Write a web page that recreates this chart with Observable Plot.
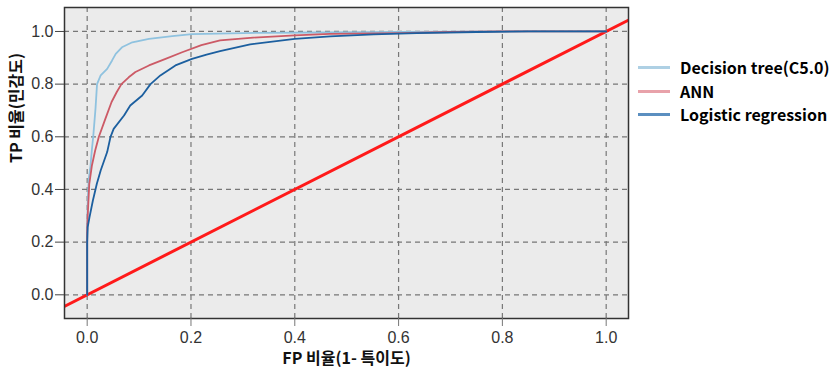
<!DOCTYPE html>
<html>
<head>
<meta charset="utf-8">
<script src="https://cdn.jsdelivr.net/npm/d3@7"></script>
<script src="https://cdn.jsdelivr.net/npm/@observablehq/plot@0.6"></script>
<style>
  body { margin: 0; background: #fff; }
  #wrap { position: relative; width: 837px; height: 375px; }
  #legend { position: absolute; left: 638px; top: 56px; width: 199px; white-space: nowrap; font-family: "Noto Sans CJK KR", "Noto Sans", sans-serif; font-weight: bold; font-size: 16px; color: #000; }
  .item { display: flex; align-items: center; height: 23.5px; line-height: 23.5px; white-space: nowrap; }
  .sw { width: 32px; height: 3px; margin-right: 10px; flex: none; }
</style>
</head>
<body>
<div id="wrap"><div id="legend"></div></div>
<script>
const xTicks = [0, 0.2, 0.4, 0.6, 0.8, 1.0];
const yTicks = [0, 0.2, 0.4, 0.6, 0.8, 1.0];
const xDomain = [-0.0437, 1.043];
const yDomain = [-0.09, 1.091];

const seriesNames = ["Decision tree(C5.0)", "ANN", "Logistic regression"];
const seriesColors = ["#8fc2df", "#cc5a66", "#1c5f9f"];
const legendColors = ["#aed0e4", "#e8a2aa", "#5b8fc0"];

const dtFpr = [0, 0, 0.001, 0.003, 0.0064, 0.009, 0.0116, 0.016, 0.019, 0.026, 0.0385, 0.048, 0.055, 0.067, 0.087, 0.119, 0.164, 0.202, 0.3, 0.45, 0.6, 0.8, 1.0];
const dtTpr = [0, 0.25, 0.35, 0.44, 0.49, 0.55, 0.6, 0.706, 0.8, 0.833, 0.858, 0.89, 0.915, 0.94, 0.959, 0.972, 0.982, 0.99, 0.994, 0.996, 0.998, 1.0, 1.0];

const annFpr = [0, 0, 0.001, 0.004, 0.009, 0.0154, 0.0225, 0.035, 0.047, 0.057, 0.066, 0.08, 0.093, 0.119, 0.151, 0.183, 0.22, 0.256, 0.314, 0.4, 0.468, 0.603, 0.7, 0.8, 1.0];
const annTpr = [0, 0.24, 0.3, 0.42, 0.49, 0.548, 0.6, 0.668, 0.732, 0.77, 0.8, 0.826, 0.846, 0.871, 0.896, 0.921, 0.948, 0.966, 0.976, 0.985, 0.991, 0.994, 0.998, 1.0, 1.0];

const lrFpr = [0, 0, 0.001, 0.0045, 0.011, 0.0186, 0.026, 0.0385, 0.045, 0.051, 0.071, 0.083, 0.106, 0.122, 0.141, 0.17, 0.202, 0.23, 0.256, 0.314, 0.4, 0.468, 0.552, 0.635, 0.75, 0.85, 1.0];
const lrTpr = [0, 0.2, 0.257, 0.295, 0.358, 0.422, 0.472, 0.542, 0.6, 0.63, 0.681, 0.719, 0.757, 0.8, 0.833, 0.871, 0.896, 0.912, 0.925, 0.951, 0.972, 0.981, 0.989, 0.994, 0.998, 1.0, 1.0];

const refLine = [-0.05, 1.05];

const xTitle = "FP 비율(1- 특이도)";
const yTitle = "TP 비율(민감도)";

const toRows = (xs, ys) => xs.map((x, i) => ({x, y: ys[i]}));
const curves = [toRows(dtFpr, dtTpr), toRows(annFpr, annTpr), toRows(lrFpr, lrTpr)];
const diag = refLine.map(v => ({x: v, y: v}));

const chart = Plot.plot({
  width: 837,
  height: 375,
  marginLeft: 64,
  marginRight: 209,
  marginTop: 7,
  marginBottom: 57,
  style: {fontFamily: "'Liberation Sans', Arial, sans-serif", fontSize: "16px", color: "#333", background: "transparent"},
  x: {domain: xDomain},
  y: {domain: yDomain},
  marks: [
    Plot.frame({fill: "#ebebeb", stroke: "none"}),
    Plot.gridX(xTicks, {stroke: "#777", strokeOpacity: 1, strokeWidth: 1.2, strokeDasharray: "5,4"}),
    Plot.gridY(yTicks, {stroke: "#777", strokeOpacity: 1, strokeWidth: 1.2, strokeDasharray: "5,4"}),
    Plot.line(diag, {x: "x", y: "y", stroke: "#ff1a1a", strokeWidth: 3, clip: true}),
    ...curves.map((c, i) => Plot.line(c, {x: "x", y: "y", stroke: seriesColors[i], strokeWidth: 1.8, clip: true})),
    Plot.frame({stroke: "#333", strokeWidth: 1.5}),
    Plot.axisX(xTicks, {tickSize: 8, tickPadding: 5, tickFormat: d3.format(".1f"), fontSize: 16, stroke: "#777", fill: "#333", label: null}),
    Plot.axisY(yTicks, {tickSize: 9, tickPadding: 2, tickFormat: d3.format(".1f"), fontSize: 16, stroke: "#444", fill: "#333", label: null}),
    Plot.text([xTitle], {text: d => d, frameAnchor: "bottom", dy: 45, fontFamily: "'Noto Sans CJK KR', sans-serif", fontWeight: "bold", fontSize: 16, fill: "#111"}),
    Plot.text([yTitle], {text: d => d, frameAnchor: "left", dx: -48, rotate: -90, fontFamily: "'Noto Sans CJK KR', sans-serif", fontWeight: "bold", fontSize: 16, fill: "#111"})
  ]
});
document.getElementById("wrap").prepend(chart);

const legend = document.getElementById("legend");
seriesNames.forEach((name, i) => {
  const item = document.createElement("div");
  item.className = "item";
  const sw = document.createElement("span");
  sw.className = "sw";
  sw.style.background = legendColors[i];
  const t = document.createElement("span");
  t.textContent = name;
  item.append(sw, t);
  legend.append(item);
});
</script>
</body>
</html>
